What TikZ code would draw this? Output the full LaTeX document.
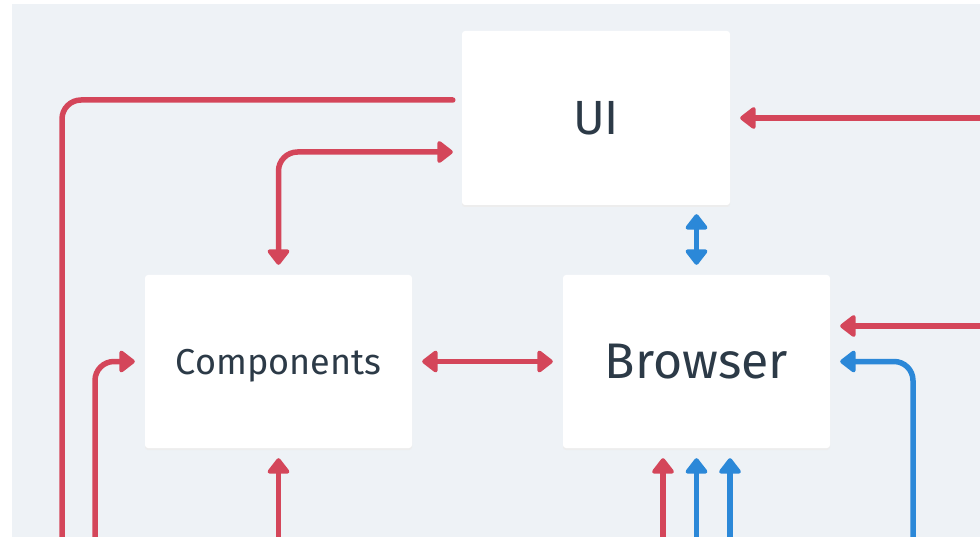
\documentclass[tikz,border=0pt]{standalone}
\usepackage{fontspec}
\setmainfont{Fira Sans}
\usetikzlibrary{calc,arrows.meta}
\definecolor{canvas}{HTML}{EEF2F6}
\definecolor{flowred}{HTML}{D4465A}
\definecolor{flowblue}{HTML}{2B88D8}
\definecolor{ink}{HTML}{2C3A47}
\tikzset{
  card/.style={fill=white, rounded corners=3pt, minimum width=267pt, minimum height=173pt,
    text=ink, inner sep=0pt, text depth=0pt},
  cardshadow/.style={fill=black!7, rounded corners=3pt},
  flowtip/.tip={Triangle[length=17pt, width=25pt, line join=round]},
  flow/.style={line width=5.5pt, rounded corners=19pt, line cap=round},
  redflow/.style={flow, draw=flowred, arrows={-flowtip}},
  blueflow/.style={flow, draw=flowblue, arrows={-flowtip}},
  redboth/.style={flow, draw=flowred, arrows={flowtip-flowtip}},
  blueboth/.style={flow, draw=flowblue, arrows={flowtip-flowtip}},
}
\begin{document}
\begin{tikzpicture}[x=1pt, y=-1pt]
  \useasboundingbox (0,0) rectangle (980,537);
  \fill[canvas] (12,4) rectangle (980,537);

  % shadows under the cards
  \fill[cardshadow] (462,32) rectangle (730,207);
  \fill[cardshadow] (145,276) rectangle (412,450);
  \fill[cardshadow] (563,276) rectangle (830,450);

  % cards
  \node[card, minimum width=268pt, minimum height=174pt, font=\fontsize{48}{56}\selectfont] (ui) at (596,118) {UI};
  \node[card, font=\fontsize{36}{42}\selectfont] (comp) at (278.5,361.5) {Components};
  \node[card, font=\fontsize{50}{58}\selectfont] (br) at (696.5,361.5) {Browser};

  % loose ends at the picture edges
  \coordinate (e1) at (62,545);
  \coordinate (e2) at (95,545);
  \coordinate (e3) at (278.5,545);
  \coordinate (e4) at (663,545);
  \coordinate (e5) at (696.5,545);
  \coordinate (e6) at (730,545);
  \coordinate (e7) at (913,545);
  \coordinate (r1) at (990,118);
  \coordinate (r2) at (990,326);

  % UI links
  \draw[flow, draw=flowred] ($(ui.west)+(-9,-18)$) -| (e1);
  \draw[redboth] ($(comp.north)+(0,-10)$) |- ($(ui.west)+(-9,34)$);
  \draw[redflow] (r1) -- ($(ui.east)+(10,0)$);
  \draw[blueboth] ($(ui.south -| br.north)+(0,9)$) -- ($(br.north)+(0,-10)$);

  % Components links
  \draw[redboth] ($(comp.east)+(10,0)$) -- ($(br.west)+(-10,0)$);
  \draw[redflow] (e2) |- ($(comp.west)+(-10,0)$);
  \draw[redflow] (e3) -- ($(comp.south)+(0,10)$);

  % Browser links
  \draw[redflow] (e4) -- ($(br.south)+(-33.5,10)$);
  \draw[blueflow] (e5) -- ($(br.south)+(0,10)$);
  \draw[blueflow] (e6) -- ($(br.south)+(33.5,10)$);
  \draw[redflow] (r2) -- ($(br.east)+(10,-35.5)$);
  \draw[blueflow] (e7) |- ($(br.east)+(10,0)$);
\end{tikzpicture}
\end{document}
